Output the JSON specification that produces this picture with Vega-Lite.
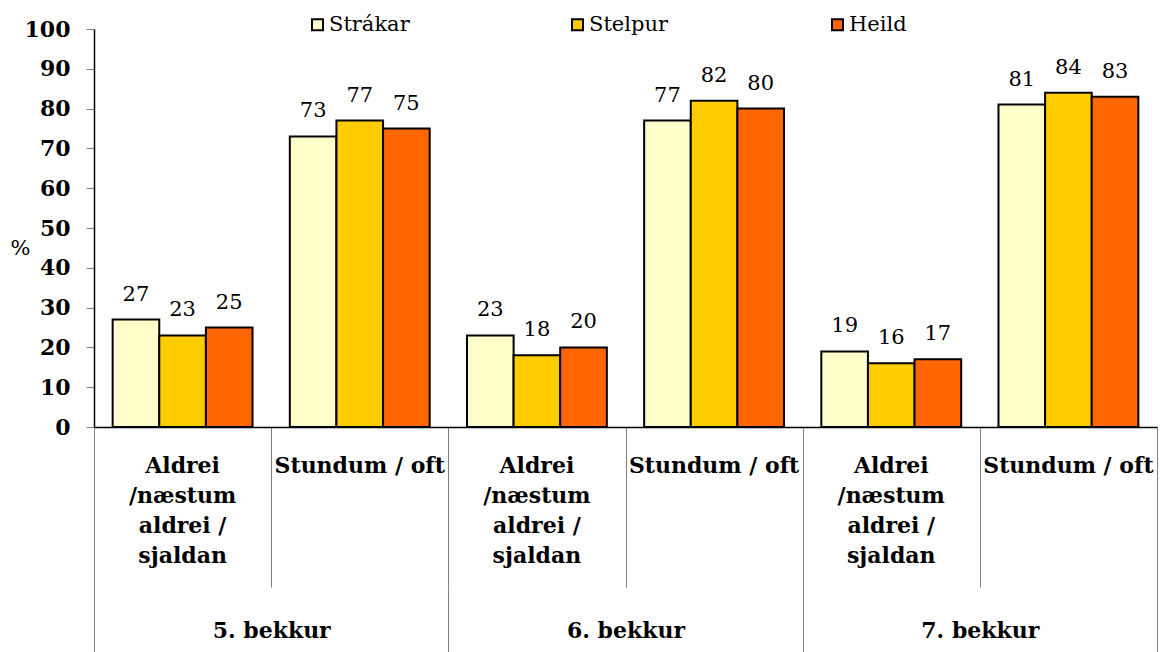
{
  "$schema": "https://vega.github.io/schema/vega-lite/v6.json",
  "autosize": "none",
  "padding": {"left": 94, "top": 29, "right": 5, "bottom": 225},
  "width": 1063,
  "height": 398,
  "background": "white",
  "config": {
    "view": {"stroke": null},
    "font": "DejaVu Serif",
    "axis": {"labelFont": "DejaVu Serif", "titleFont": "DejaVu Serif", "labelColor": "black", "titleColor": "black", "grid": false}
  },
  "datasets": {
    "bars": [
      {"grade": "5. bekkur", "cat": "5-A", "sex": "Strákar", "value": 27},
      {"grade": "5. bekkur", "cat": "5-A", "sex": "Stelpur", "value": 23},
      {"grade": "5. bekkur", "cat": "5-A", "sex": "Heild", "value": 25},
      {"grade": "5. bekkur", "cat": "5-S", "sex": "Strákar", "value": 73},
      {"grade": "5. bekkur", "cat": "5-S", "sex": "Stelpur", "value": 77},
      {"grade": "5. bekkur", "cat": "5-S", "sex": "Heild", "value": 75},
      {"grade": "6. bekkur", "cat": "6-A", "sex": "Strákar", "value": 23},
      {"grade": "6. bekkur", "cat": "6-A", "sex": "Stelpur", "value": 18},
      {"grade": "6. bekkur", "cat": "6-A", "sex": "Heild", "value": 20},
      {"grade": "6. bekkur", "cat": "6-S", "sex": "Strákar", "value": 77},
      {"grade": "6. bekkur", "cat": "6-S", "sex": "Stelpur", "value": 82},
      {"grade": "6. bekkur", "cat": "6-S", "sex": "Heild", "value": 80},
      {"grade": "7. bekkur", "cat": "7-A", "sex": "Strákar", "value": 19},
      {"grade": "7. bekkur", "cat": "7-A", "sex": "Stelpur", "value": 16},
      {"grade": "7. bekkur", "cat": "7-A", "sex": "Heild", "value": 17},
      {"grade": "7. bekkur", "cat": "7-S", "sex": "Strákar", "value": 81},
      {"grade": "7. bekkur", "cat": "7-S", "sex": "Stelpur", "value": 84},
      {"grade": "7. bekkur", "cat": "7-S", "sex": "Heild", "value": 83}
    ],
    "cats": [
      {"cat": "5-A", "answer": "Aldrei\n/næstum\naldrei /\nsjaldan"},
      {"cat": "5-S", "answer": "Stundum / oft"},
      {"cat": "6-A", "answer": "Aldrei\n/næstum\naldrei /\nsjaldan"},
      {"cat": "6-S", "answer": "Stundum / oft"},
      {"cat": "7-A", "answer": "Aldrei\n/næstum\naldrei /\nsjaldan"},
      {"cat": "7-S", "answer": "Stundum / oft"}
    ]
  },
  "layer": [
    {
      "data": {"name": "bars"},
      "encoding": {
        "x": {
          "field": "cat", "type": "nominal",
          "scale": {"paddingInner": 0, "paddingOuter": 0},
          "axis": {
            "title": null, "orient": "bottom", "labels": false,
            "tickBand": "extent", "tickSize": 160, "tickColor": "#808080", "tickWidth": 1,
            "domainColor": "black", "domainWidth": 1.5
          }
        },
        "xOffset": {
          "field": "sex", "type": "nominal",
          "sort": ["Strákar", "Stelpur", "Heild"],
          "scale": {"paddingInner": 0, "paddingOuter": 0.4}
        },
        "y": {
          "field": "value", "type": "quantitative",
          "scale": {"domain": [0, 100], "nice": false},
          "axis": {
            "values": [0, 10, 20, 30, 40, 50, 60, 70, 80, 90, 100],
            "title": "%", "titleAngle": 0, "titleX": -74, "titleY": 219,
            "titleAlign": "center", "titleBaseline": "middle",
            "titleFontSize": 21, "titleFontWeight": "normal",
            "labelFontSize": 22, "labelFontWeight": "bold",
            "tickSize": 8, "tickColor": "#808080", "tickWidth": 1,
            "labelPadding": 16,
            "domainColor": "black", "domainWidth": 1.5
          }
        }
      },
      "layer": [
        {
          "mark": {"type": "bar", "stroke": "black", "strokeWidth": 2},
          "encoding": {
            "fill": {
              "field": "sex", "type": "nominal",
              "sort": ["Strákar", "Stelpur", "Heild"],
              "scale": {"domain": ["Strákar", "Stelpur", "Heild"], "range": ["#FFFFCC", "#FFCC00", "#FF6600"]},
              "legend": {
                "title": null, "orient": "none", "direction": "horizontal",
                "legendX": 213, "legendY": -15,
                "symbolType": "square", "symbolSize": 121,
                "symbolStrokeColor": "black", "symbolStrokeWidth": 2, "symbolOpacity": 1,
                "labelFont": "DejaVu Serif", "labelFontSize": 21, "labelColor": "black",
                "labelOffset": 1, "gridAlign": "all", "columnPadding": 157, "labelLimit": 300
              }
            }
          }
        },
        {
          "mark": {"type": "text", "baseline": "alphabetic", "dy": -19, "fontSize": 21, "font": "DejaVu Serif", "color": "black"},
          "encoding": {
            "text": {"field": "value", "type": "quantitative"}
          }
        }
      ]
    },
    {
      "data": {"name": "cats"},
      "mark": {"type": "text", "baseline": "top", "align": "center", "lineBreak": "\n", "lineHeight": 30, "fontSize": 22, "fontWeight": "bold", "font": "DejaVu Serif", "color": "black"},
      "encoding": {
        "x": {"field": "cat", "type": "nominal", "scale": {"paddingInner": 0, "paddingOuter": 0}, "axis": null},
        "y": {
          "datum": -7.3, "type": "quantitative",
          "axis": {
            "values": [0, 10, 20, 30, 40, 50, 60, 70, 80, 90, 100],
            "title": "%", "titleAngle": 0, "titleX": -74, "titleY": 219,
            "titleAlign": "center", "titleBaseline": "middle",
            "titleFontSize": 21, "titleFontWeight": "normal",
            "labelFontSize": 22, "labelFontWeight": "bold",
            "tickSize": 8, "tickColor": "#808080", "tickWidth": 1,
            "labelPadding": 16,
            "domainColor": "black", "domainWidth": 1.5
          }
        },
        "text": {"field": "answer", "type": "nominal"}
      }
    },
    {
      "data": {"name": "bars"},
      "mark": {"type": "point", "opacity": 0},
      "encoding": {
        "x": {
          "field": "grade", "type": "nominal",
          "scale": {"paddingInner": 0, "paddingOuter": 0},
          "axis": {
            "title": null, "orient": "bottom", "offset": 160,
            "domain": false, "labelAngle": 0,
            "labelBaseline": "middle", "labelPadding": -22,
            "labelFontSize": 22, "labelFontWeight": "bold",
            "tickBand": "extent", "tickSize": 65, "tickColor": "#808080", "tickWidth": 1
          }
        },
        "y": {
          "datum": 0, "type": "quantitative",
          "axis": {
            "values": [0, 10, 20, 30, 40, 50, 60, 70, 80, 90, 100],
            "title": "%", "titleAngle": 0, "titleX": -74, "titleY": 219,
            "titleAlign": "center", "titleBaseline": "middle",
            "titleFontSize": 21, "titleFontWeight": "normal",
            "labelFontSize": 22, "labelFontWeight": "bold",
            "tickSize": 8, "tickColor": "#808080", "tickWidth": 1,
            "labelPadding": 16,
            "domainColor": "black", "domainWidth": 1.5
          }
        }
      }
    }
  ],
  "resolve": {"scale": {"x": "independent"}, "axis": {"x": "independent"}}
}
